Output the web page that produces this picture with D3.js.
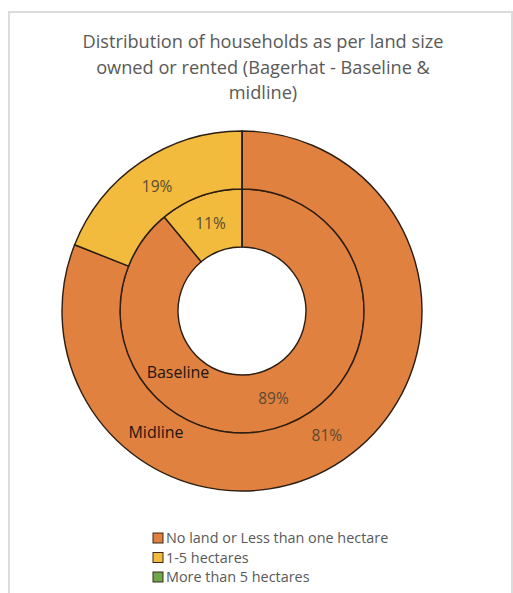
<!DOCTYPE html>
<html>
<head>
<meta charset="utf-8">
<script src="https://cdn.jsdelivr.net/npm/d3@7"></script>
<style>
  body { margin: 0; background: #fff; }
  svg { display: block; font-family: "Open Sans", "Liberation Sans", sans-serif; }
</style>
</head>
<body>
<svg id="chart" width="513" height="593"></svg>
<script>
var categories = ["No land or Less than one hectare", "1-5 hectares", "More than 5 hectares"];
var colors = ["#E0813F", "#F2BB3E", "#6FA84A"];
var baseline = [89, 11, 0];
var midline = [81, 19, 0];
var titleLines = ["Distribution of households as per land size", "owned or rented (Bagerhat - Baseline &", "midline)"];

var svg = d3.select("#chart");

// light frame of the chart area
svg.append("path")
    .attr("d", "M9,600 L9,12 L512,12 L512,600")
    .attr("fill", "none")
    .attr("stroke", "#dcdcdc")
    .attr("stroke-width", 2);

// title
svg.append("g").selectAll("text")
    .data(titleLines)
    .enter().append("text")
    .attr("x", 263)
    .attr("y", function(d, i) { return 48 + i * 25.5; })
    .attr("text-anchor", "middle")
    .attr("font-size", 18.2)
    .attr("fill", "#595959")
    .text(function(d) { return d; });

var cx = 242, cy = 311;
var g = svg.append("g").attr("transform", "translate(" + cx + "," + cy + ")");

var pie = d3.pie().sort(null).value(function(d) { return d; });

var rings = [
    {name: "Baseline", values: baseline, inner: 64, outer: 122},
    {name: "Midline", values: midline, inner: 122, outer: 180}
];

rings.forEach(function(ring) {
    var arc = d3.arc().innerRadius(ring.inner).outerRadius(ring.outer);
    var arcs = pie(ring.values);
    g.append("g").selectAll("path")
        .data(arcs)
        .enter().append("path")
        .attr("d", arc)
        .attr("fill", function(d, i) { return colors[i]; })
        .attr("stroke", "#2b1d12")
        .attr("stroke-width", 1.4);

    // percent labels
    g.append("g").selectAll("text")
        .data(arcs.filter(function(d) { return d.value > 0; }))
        .enter().append("text")
        .attr("transform", function(d) {
            var c = arc.centroid(d);
            return "translate(" + c[0] + "," + c[1] + ")";
        })
        .attr("text-anchor", "middle")
        .attr("dy", "0.35em")
        .attr("font-size", 15.5)
        .attr("fill", "#5b4a30")
        .text(function(d) { return d.value + "%"; });
});

// series names
var seriesLabels = [
    {name: "Baseline", x: -64, y: 61},
    {name: "Midline", x: -86, y: 121}
];
g.append("g").selectAll("text")
    .data(seriesLabels)
    .enter().append("text")
    .attr("x", function(d) { return d.x; })
    .attr("y", function(d) { return d.y; })
    .attr("text-anchor", "middle")
    .attr("dy", "0.35em")
    .attr("font-size", 16)
    .attr("fill", "#1e1410")
    .text(function(d) { return d.name; });

// legend
var legend = svg.append("g").attr("transform", "translate(153,538)");
var items = legend.selectAll("g")
    .data(categories)
    .enter().append("g")
    .attr("transform", function(d, i) { return "translate(0," + (i * 19.5) + ")"; });
items.append("rect")
    .attr("x", 0).attr("y", -5)
    .attr("width", 10).attr("height", 10)
    .attr("fill", function(d, i) { return colors[i]; })
    .attr("stroke", "#3a2a1a")
    .attr("stroke-width", 1);
items.append("text")
    .attr("x", 13)
    .attr("dy", "0.35em")
    .attr("font-size", 14.4)
    .attr("fill", "#595959")
    .text(function(d) { return d; });
</script>
</body>
</html>
